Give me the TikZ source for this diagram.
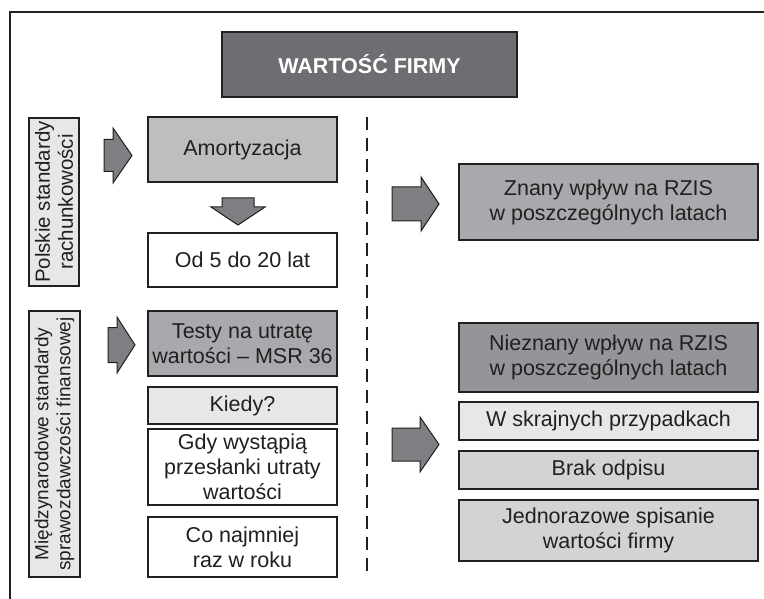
\documentclass[tikz,border=0pt]{standalone}
\usepackage{fontspec}
\setmainfont{Liberation Sans}

\definecolor{inkdark}{HTML}{231F20}
\definecolor{titlegray}{HTML}{6D6E71}
\definecolor{arrowgray}{HTML}{7E7F82}
\definecolor{darkfill}{HTML}{939598}
\definecolor{midfill}{HTML}{A7A9AC}
\definecolor{lightfill}{HTML}{BCBEC0}
\definecolor{palefill}{HTML}{D1D3D4}
\definecolor{whitefill}{HTML}{E6E7E8}

\tikzset{
	box/.style={draw=inkdark,line width=2.2pt,rectangle,align=center,inner sep=2pt,
		text=inkdark,font=\fontsize{21.5}{25}\selectfont},
	leftbox/.style={box,minimum width=189pt},
	rightbox/.style={box,minimum width=299pt},
	sidebox/.style={box,fill=whitefill,rotate=90,font=\fontsize{20.5}{23}\selectfont},
	arrowfill/.style={fill=arrowgray,draw=inkdark,line width=1pt},
	pics/blockarr/.style args={#1/#2/#3/#4}{code={
		\filldraw[arrowfill] (0,-#3) -- (#1,-#3) -- (#1,-#4) -- (#1+#2,0)
			-- (#1,#4) -- (#1,#3) -- (0,#3) -- cycle;
	}}
}

\begin{document}
\begin{tikzpicture}[x=1pt,y=-1pt]
	\useasboundingbox (0,0) rectangle (764,599);

	% frame
	\draw[inkdark,line width=1.5pt] (764,12) -- (10,12) -- (10,599);

	% title
	\node[box,fill=titlegray,text=white,minimum width=295pt,minimum height=65pt,
		font=\fontsize{21.5}{25}\selectfont\bfseries] (title) at (369.5,64.5) {WARTOŚĆ FIRMY};

	% separator
	\draw[inkdark,line width=2.4pt,dash pattern=on 13pt off 8pt] (367,117) -- (367,577);

	% Polish standards
	\node[sidebox,minimum width=168pt,minimum height=50pt] (pol) at (54,202)
		{Polskie standardy\\rachunkowości};
	\pic at (104,155.5) {blockarr={9/19/16/27.5}};
	\node[leftbox,fill=lightfill,minimum height=65pt] (amort) at (242.5,149.5) {Amortyzacja};
	\pic[rotate=-90] at (238,198) {blockarr={9/18/16/27}};
	\node[leftbox,fill=white,minimum height=54pt] (lata) at (242.5,260) {Od 5 do 20 lat};

	% International standards
	\node[sidebox,minimum width=266pt,minimum height=51pt,font=\fontsize{19}{22}\selectfont]
		(msr) at (54.5,444) {Międzynarodowe standardy\\sprawozdawczości finansowej};
	\pic at (108,345) {blockarr={9/18/17.5/28}};
	\node[leftbox,fill=midfill,minimum height=65pt] (testy) at (242.5,343.5)
		{Testy na utratę\\wartości -- MSR 36};
	\node[leftbox,fill=whitefill,minimum height=37pt] (kiedy) at (242.5,405.5) {Kiedy?};
	\node[leftbox,fill=white,minimum height=76pt] (gdy) at (242.5,467)
		{Gdy wystąpią\\przesłanki utraty\\wartości};
	\node[leftbox,fill=white,minimum height=60pt] (raz) at (242.5,547)
		{Co najmniej\\raz w roku};

	% effect on RZIS
	\pic at (392,204) {blockarr={29/18/17/27}};
	\node[rightbox,fill=midfill,minimum height=76pt] (znany) at (608.5,202)
		{Znany wpływ na RZIS\\w poszczególnych latach};

	\pic at (392,444.5) {blockarr={28/19/16.5/27.5}};
	\node[rightbox,fill=darkfill,minimum height=69pt] (nieznany) at (608.5,357.5)
		{Nieznany wpływ na RZIS\\w poszczególnych latach};
	\node[rightbox,fill=whitefill,minimum height=38pt] (skrajne) at (608.5,421)
		{W skrajnych przypadkach};
	\node[rightbox,fill=palefill,minimum height=38pt] (brak) at (608.5,470)
		{Brak odpisu};
	\node[rightbox,fill=palefill,minimum height=61pt] (spisanie) at (608.5,530.5)
		{Jednorazowe spisanie\\wartości firmy};
\end{tikzpicture}
\end{document}
